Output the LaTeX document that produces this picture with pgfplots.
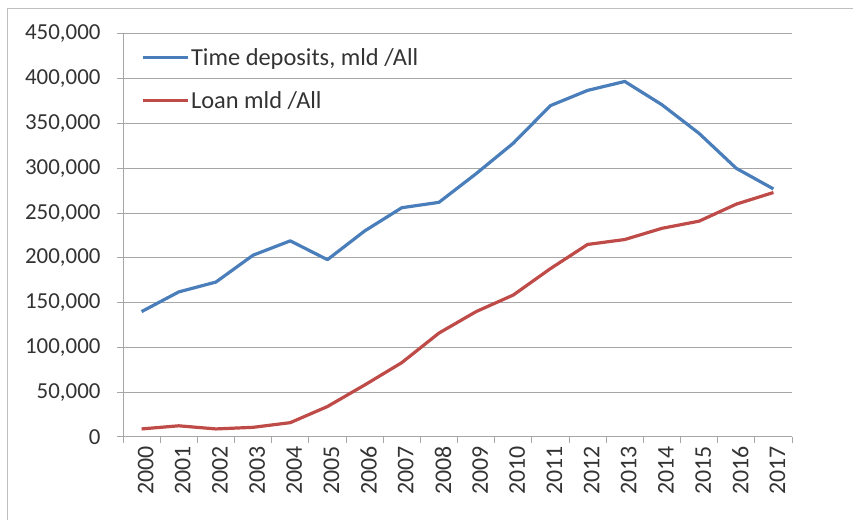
\documentclass[border=0pt]{standalone}
\usepackage{pgfplots}
\pgfplotsset{compat=1.18}
\usepackage{fontspec}
\setmainfont{Carlito}
\definecolor{blueL}{HTML}{4A7EBB}
\definecolor{redL}{HTML}{BE4B48}
\definecolor{txt}{HTML}{333333}
\definecolor{gridc}{HTML}{A6A6A6}
\definecolor{framec}{HTML}{BFBFBF}
\begin{document}
\begin{tikzpicture}[x=1bp,y=1bp]
\path[use as bounding box] (0,0) rectangle (853,520);
\draw[framec, line width=1bp] (7,0) -- (7,511) -- (853,511);
\begin{axis}[at={(123bp,83bp)}, anchor=south west, width=669bp, height=403bp, scale only axis,
  xmin=-0.5, xmax=17.5, ymin=0, ymax=450000,
  xtick={0,...,17},
  xticklabels={2000,2001,2002,2003,2004,2005,2006,2007,2008,2009,2010,2011,2012,2013,2014,2015,2016,2017},
  minor xtick={-0.5,0.5,...,17.5},
  ytick={0,50000,...,450000},
  scaled y ticks=false,
  ymajorgrids, grid style={gridc, line width=1bp},
  axis x line*=bottom, axis y line*=left,
  axis line style={gridc, line width=1bp},
  tick align=outside, major tick length=6bp, minor tick length=6bp,
  major x tick style={draw=none},
  minor x tick style={gridc, line width=1bp},
  ytick style={gridc, line width=1bp},
  /pgf/number format/assume math mode=true,
  ticklabel style={text=txt},
  yticklabel style={font=\fontsize{23}{27}\selectfont, /pgf/number format/fixed, /pgf/number format/1000 sep={,}, xshift=-13bp},
  xticklabel style={font=\fontsize{24}{28}\selectfont, rotate=90, anchor=east, yshift=-4bp},
  legend style={at={(rel axis cs:0.022,0.975)}, anchor=north west, draw=none, fill=none,
    font=\fontsize{24.5}{29}\selectfont, text=txt, row sep=21bp},
  legend cell align=left,
  legend image code/.code={\draw[#1] (0bp,0bp) -- (45bp,0bp);},
]
\addplot[blueL, line width=3.2bp, line join=round] coordinates {
(0,140000) (1,162000) (2,173000) (3,203000) (4,219000) (5,198000) (6,230000) (7,256000) (8,262000)
(9,294000) (10,328000) (11,370000) (12,387000) (13,397000) (14,371000) (15,339000) (16,300000) (17,277000)};
\addlegendentry{Time deposits, mld /All}
\addplot[redL, line width=3.2bp, line join=round] coordinates {
(0,9000) (1,12500) (2,9000) (3,10800) (4,16000) (5,34000) (6,58000) (7,83000) (8,116000)
(9,140000) (10,158500) (11,188000) (12,215000) (13,220500) (14,233000) (15,241000) (16,260000) (17,273000)};
\addlegendentry{Loan mld /All}
\end{axis}
\end{tikzpicture}
\end{document}
